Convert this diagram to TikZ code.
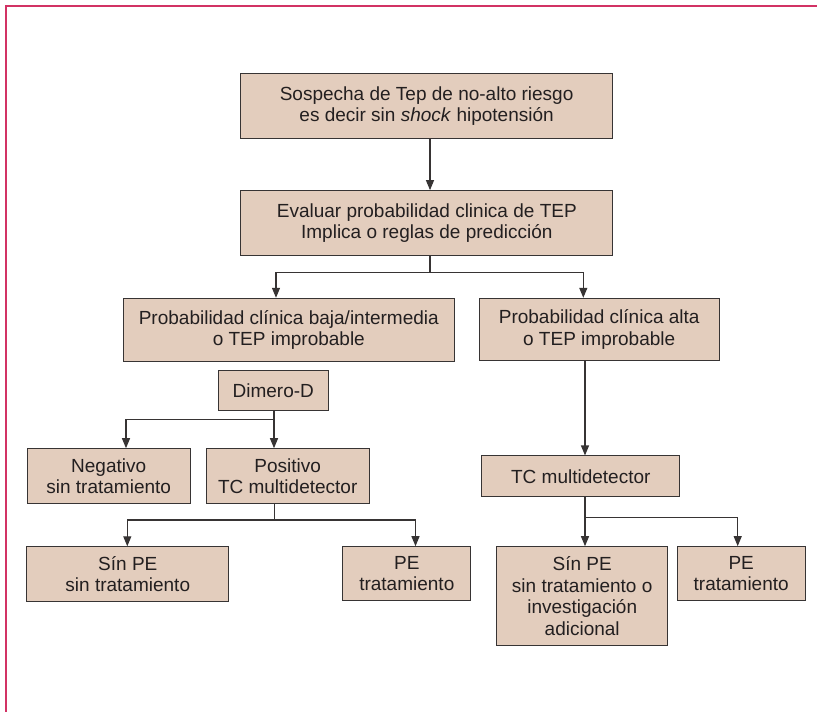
\documentclass[tikz,border=0pt]{standalone}
\usepackage{fontspec}
\setmainfont{Liberation Sans}
\usetikzlibrary{arrows.meta}
\definecolor{boxfill}{RGB}{227,205,189}
\definecolor{boxline}{RGB}{55,52,52}
\definecolor{txt}{RGB}{35,31,32}
\definecolor{framecol}{RGB}{210,50,100}
\begin{document}
\begin{tikzpicture}[x=1pt,y=-1pt,
  box/.style={draw=boxline, fill=boxfill, line width=1pt, align=center, text=txt,
    font=\fontsize{19}{21.5}\selectfont, inner sep=0pt},
  conn/.style={draw=boxline, line width=1.1pt},
  arr/.style={conn, -{Triangle[length=10pt,width=8pt]}}]
\useasboundingbox (0,0) rectangle (817,712);
\draw[draw=framecol, line width=2pt] (817,5.5) -- (5.5,5.5) -- (5.5,712);

\node[box, minimum width=372pt, minimum height=64.7pt] (b1) at (426.6,106.3)
  {Sospecha de Tep de no-alto riesgo\\es decir sin \textit{shock} hipotensión};
\node[box, minimum width=371.7pt, minimum height=65.3pt] (b2) at (426.8,223.3)
  {Evaluar probabilidad clinica de TEP\\Implica o reglas de predicción};
\node[box, minimum width=331pt, minimum height=63.4pt] (b3) at (288.8,330)
  {Probabilidad clínica baja/intermedia\\o TEP improbable};
\node[box, minimum width=239.7pt, minimum height=62.4pt] (b4) at (599.2,329.5)
  {Probabilidad clínica alta\\o TEP improbable};
\node[box, minimum width=110pt, minimum height=40.3pt] (dim) at (273.3,390.8)
  {Dimero-D};
\node[box, minimum width=163.3pt, minimum height=54.6pt] (neg) at (108.7,476)
  {Negativo\\sin tratamiento};
\node[box, minimum width=163.3pt, minimum height=54.6pt] (pos) at (287.7,476)
  {Positivo\\TC multidetector};
\node[box, minimum width=198.3pt, minimum height=40.7pt] (tc) at (580.8,476.3)
  {TC multidetector};
\node[box, minimum width=201.7pt, minimum height=55pt] (sp1) at (127.8,574.3)
  {Sín PE\\sin tratamiento};
\node[box, minimum width=128.3pt, minimum height=54pt] (pe1) at (406.8,573.7)
  {PE\\tratamiento};
\node[box, minimum width=171pt, minimum height=99pt] (sp2) at (582.2,596.2)
  {Sín PE\\sin tratamiento o\\investigación\\adicional};
\node[box, minimum width=128.3pt, minimum height=54.3pt] (pe2) at (741.2,573.8)
  {PE\\tratamiento};

\coordinate (j1) at (430,272.7);
\coordinate (xa) at (276,0);
\coordinate (xb) at (583.3,0);
\draw[arr] (b1.south -| j1) -- (b2.north -| j1);
\draw[conn] (b2.south -| j1) -- (j1);
\draw[arr] (j1) -| (b3.north -| xa);
\draw[arr] (j1) -| (b4.north -| xb);

\coordinate (j2) at (274,419.3);
\coordinate (xc) at (126,0);
\draw[conn] (dim.south -| j2) -- (j2);
\draw[arr] (j2) -| (neg.north -| xc);
\draw[arr] (j2) -- (pos.north -| j2);

\coordinate (j3) at (274.3,520);
\coordinate (xd) at (127.3,0);
\coordinate (xe) at (415.5,0);
\draw[conn] (pos.south -| j3) -- (j3);
\draw[arr] (j3) -| (sp1.north -| xd);
\draw[arr] (j3) -| (pe1.north -| xe);

\coordinate (xf) at (585,0);
\draw[arr] (b4.south -| xf) -- (tc.north -| xf);
\coordinate (j4) at (585,517.7);
\coordinate (xg) at (737.7,0);
\draw[conn] (tc.south -| j4) -- (j4);
\draw[arr] (j4) -- (sp2.north -| j4);
\draw[arr] (j4) -| (pe2.north -| xg);
\end{tikzpicture}
\end{document}
